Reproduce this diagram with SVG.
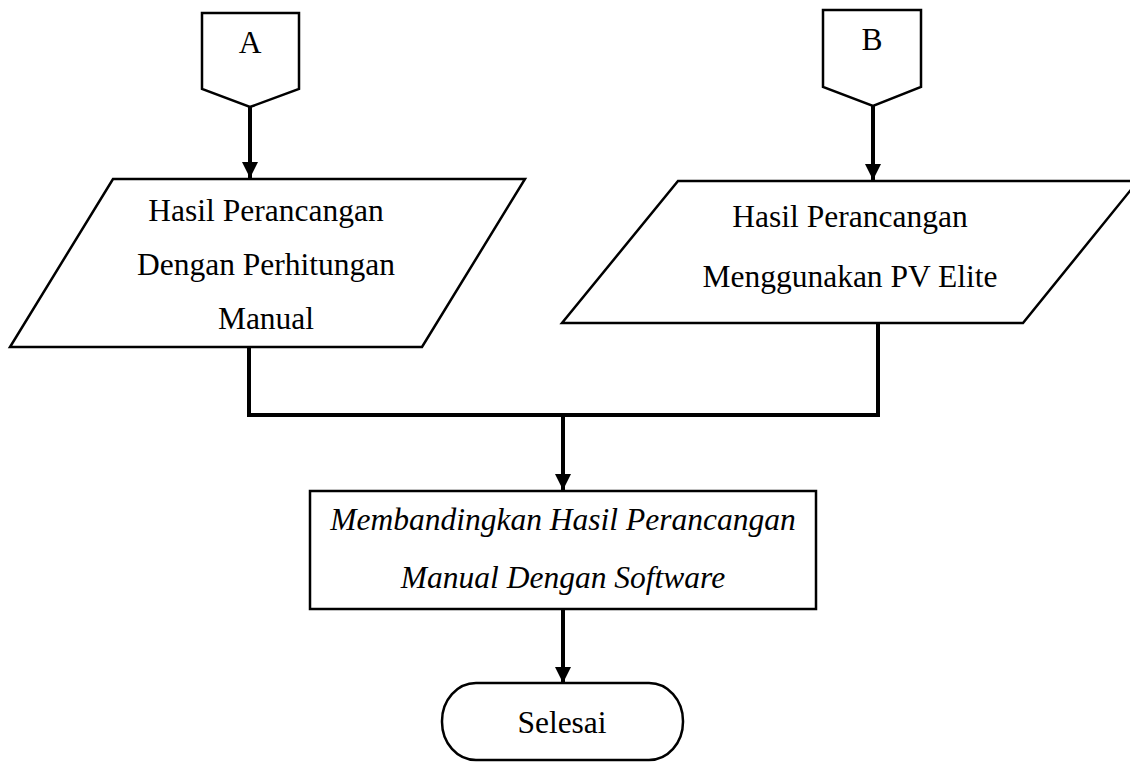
<svg xmlns="http://www.w3.org/2000/svg" width="1130" height="762" viewBox="0 0 1130 762">
<style>
.shape{fill:#fff;stroke:#000;stroke-width:2.5;stroke-linejoin:miter}
.t{font-family:"Liberation Serif","Times New Roman",serif;font-size:31.5px;fill:#000;text-anchor:middle}
.i{font-style:italic}
.line{fill:none;stroke:#000;stroke-width:4}
</style>
<defs>
<marker id="ah" viewBox="0 0 10 10" refX="10" refY="5" markerWidth="4" markerHeight="4" markerUnits="strokeWidth" orient="auto">
<path d="M0,0 L10,5 L0,10 z" fill="#000"/>
</marker>
</defs>
<rect width="1130" height="762" fill="#fff"/>
<g id="connectors">
<line class="line" x1="250" y1="107" x2="250" y2="178" marker-end="url(#ah)"/>
<line class="line" x1="873" y1="106" x2="873" y2="180" marker-end="url(#ah)"/>
<polyline class="line" points="249,347 249,415 878,415 878,323"/>
<line class="line" x1="247" y1="415" x2="880" y2="415" stroke-width="6"/>
<line class="line" x1="563" y1="415" x2="563" y2="490" marker-end="url(#ah)"/>
<line class="line" x1="563" y1="609" x2="563" y2="683" marker-end="url(#ah)"/>
</g>
<g id="nodeA">
<polygon class="shape" points="202,13 299,13 299,89 250,107 202,89"/>
<text class="t" x="250" y="53">A</text>
</g>
<g id="nodeB">
<polygon class="shape" points="823,10 921,10 921,87 873,106 823,87"/>
<text class="t" x="872" y="50">B</text>
</g>
<g id="manual">
<polygon class="shape" points="113,179 525,179 422,347 10,347"/>
<text class="t" x="266" y="221">Hasil Perancangan</text>
<text class="t" x="266" y="275">Dengan Perhitungan</text>
<text class="t" x="266" y="329">Manual</text>
</g>
<g id="pvelite">
<polygon class="shape" points="678,181 1138,181 1023,323 562,323"/>
<text class="t" x="850" y="227">Hasil Perancangan</text>
<text class="t" x="850" y="287">Menggunakan PV Elite</text>
</g>
<g id="compare">
<rect class="shape" x="310" y="491" width="506" height="118"/>
<text class="t i" x="563" y="530">Membandingkan Hasil Perancangan</text>
<text class="t i" x="563" y="588">Manual Dengan Software</text>
</g>
<g id="selesai">
<rect class="shape" x="442" y="683" width="241" height="77" rx="34" ry="38"/>
<text class="t" x="562" y="733">Selesai</text>
</g>
</svg>
